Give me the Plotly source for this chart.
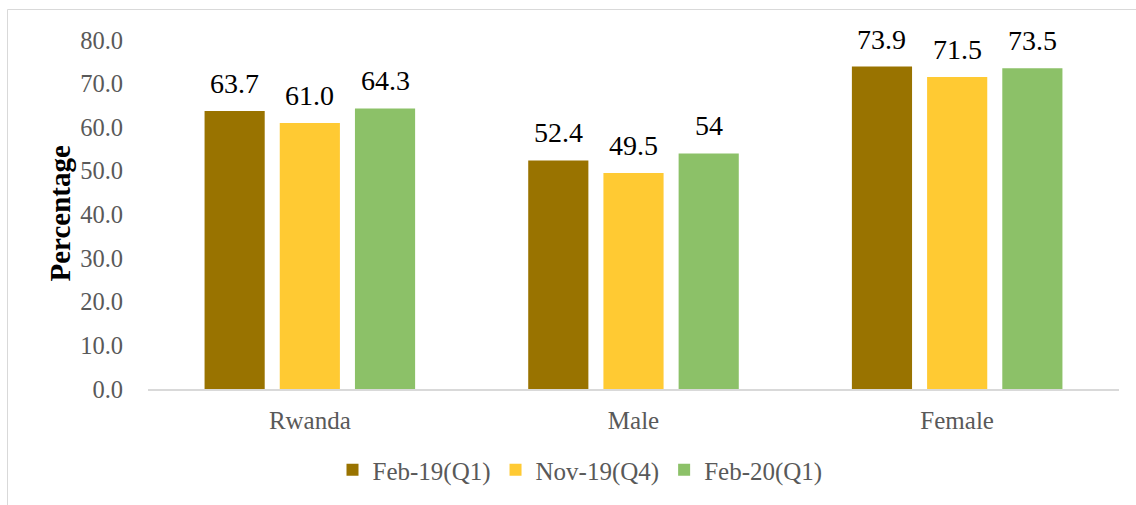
import plotly.graph_objects as go

categories = ["Rwanda", "Male", "Female"]
series_names = ["Feb-19(Q1)", "Nov-19(Q4)", "Feb-20(Q1)"]
feb19 = [63.7, 52.4, 73.9]
nov19 = [61.0, 49.5, 71.5]
feb20 = [64.3, 54.0, 73.5]
labels_feb19 = ["63.7", "52.4", "73.9"]
labels_nov19 = ["61.0", "49.5", "71.5"]
labels_feb20 = ["64.3", "54", "73.5"]
colors = ["#997300", "#FFCA33", "#8CC168"]
y_ticks = [0, 10, 20, 30, 40, 50, 60, 70, 80]

W, H = 1136, 505
L, T = 148, 40
pw, ph = 971, 349
R = W - L - pw
B = H - T - ph

FONT = "Liberation Serif"
BARGAP = 0.303

fig = go.Figure()
all_vals = [feb19, nov19, feb20]
all_labs = [labels_feb19, labels_nov19, labels_feb20]
for name, vals, col in zip(series_names, all_vals, colors):
    fig.add_trace(go.Bar(
        x=categories, y=vals, name=name,
        marker=dict(color=col, line=dict(width=0)),
    ))

slot = (1 - BARGAP) / len(series_names)
for i, (vals, labs) in enumerate(zip(all_vals, all_labs)):
    for j, (v, lab) in enumerate(zip(vals, labs)):
        fig.add_annotation(
            x=j + (i - 1) * slot, y=v, xref="x", yref="y", text=lab,
            showarrow=False, yanchor="bottom", xanchor="center", yshift=10,
            font=dict(family=FONT, size=28, color="#000000"),
        )

fig.update_layout(
    width=W, height=H,
    margin=dict(l=L, r=R, t=T, b=B, autoexpand=False),
    paper_bgcolor="white", plot_bgcolor="white",
    barmode="group", bargap=BARGAP, bargroupgap=0.2,
    font=dict(family=FONT, size=24.5, color="#595959"),
    showlegend=True,
    legend=dict(orientation="h", x=(580 - L) / pw, xanchor="center",
                y=(389 - 470) / ph, yanchor="middle",
                font=dict(family=FONT, size=25, color="#595959"),
                traceorder="normal"),
    xaxis=dict(showgrid=False, showline=True, linecolor="#D9D9D9", linewidth=1.5,
               ticks="", ticklabelstandoff=8,
               tickfont=dict(family=FONT, size=25, color="#595959")),
    yaxis=dict(range=[0, 80], tickvals=y_ticks, tickformat=".1f",
               showgrid=False, zeroline=False, showline=False,
               ticks="", ticklabelstandoff=24,
               tickfont=dict(family=FONT, size=24.5, color="#595959")),
)

fig.add_annotation(
    text="<b>Percentage</b>", textangle=-90, xref="paper", yref="paper",
    x=(59.5 - L) / pw, y=(389 - 214) / ph, xanchor="center", yanchor="middle",
    showarrow=False, font=dict(family=FONT, size=29, color="#000000"),
)

fig.add_shape(
    type="rect", xref="paper", yref="paper",
    x0=(7.5 - L) / pw, x1=(W + 20 - L) / pw,
    y0=(389 - (H + 20)) / ph, y1=(389 - 9.5) / ph,
    line=dict(color="#D9D9D9", width=1), fillcolor="rgba(0,0,0,0)", layer="below",
)

fig.write_html("out.html", config={"displayModeBar": False},
               post_script="document.body.style.margin='0';")
